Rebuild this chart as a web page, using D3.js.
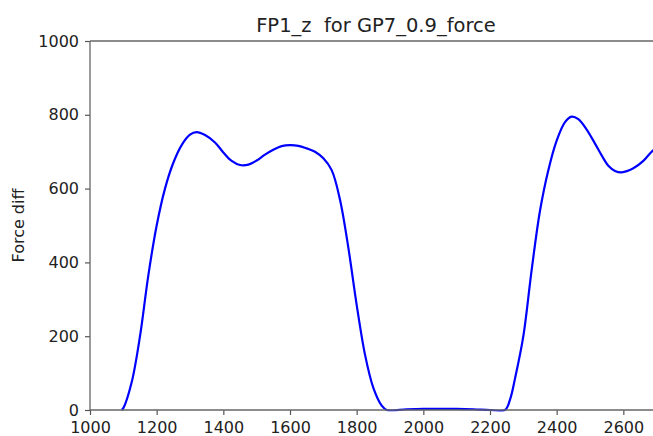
<!DOCTYPE html>
<html>
<head>
<meta charset="utf-8">
<script src="https://cdn.jsdelivr.net/npm/d3@7"></script>
<style>
  html, body { margin: 0; padding: 0; background: #fff; overflow: hidden; }
  svg { display: block; }
  text { font-family: "DejaVu Sans", sans-serif; fill: #222; }
</style>
</head>
<body>
<svg id="chart" width="653" height="436"></svg>
<script>
// Force difference on FP1 (z) over time
const frames = [1095, 1100, 1125, 1150, 1175, 1200, 1225, 1250, 1275, 1300, 1320, 1345, 1375, 1400, 1425, 1450, 1475, 1500, 1525, 1550, 1575, 1600, 1625, 1650, 1675, 1700, 1725, 1750, 1775, 1800, 1825, 1850, 1875, 1890, 1950, 2000, 2050, 2100, 2150, 2200, 2245, 2260, 2275, 2300, 2325, 2350, 2375, 2400, 2425, 2445, 2465, 2490, 2515, 2535, 2555, 2575, 2595, 2630, 2660, 2685, 2720];
const forceDiff = [0, 5, 75, 200, 365, 500, 600, 670, 718, 746, 753, 745, 725, 698, 675, 664, 665, 676, 692, 705, 715, 718, 716, 709, 700, 682, 650, 570, 440, 285, 150, 60, 12, 0, 2, 3, 3, 3, 2, 0, 0, 28, 85, 200, 380, 540, 650, 730, 780, 795, 788, 760, 722, 690, 662, 648, 644, 655, 675, 700, 728];
const xTicks = [1000, 1200, 1400, 1600, 1800, 2000, 2200, 2400, 2600];
const yTicks = [0, 200, 400, 600, 800, 1000];

const svg = d3.select("#chart");
const plotLeft = 90, plotRight = 662, plotTop = 41, plotBottom = 410;

const x = d3.scaleLinear().domain([1000, 2716]).range([plotLeft, plotRight]);
const y = d3.scaleLinear().domain([0, 1000]).range([plotBottom, plotTop]);

// plot line, clipped to axes box
svg.append("clipPath").attr("id", "plotclip")
  .append("rect").attr("x", plotLeft).attr("y", plotTop - 2)
  .attr("width", plotRight - plotLeft).attr("height", plotBottom - plotTop + 3.5);

svg.append("path")
  .datum(frames.map((f, i) => [f, forceDiff[i]]))
  .attr("clip-path", "url(#plotclip)")
  .attr("fill", "none")
  .attr("stroke", "#0000ff")
  .attr("stroke-width", 2.2)
  .attr("d", d3.line().x(d => x(d[0])).y(d => y(d[1])).curve(d3.curveCatmullRom.alpha(0.5)));

// axes
const xAxis = svg.append("g").attr("transform", `translate(0,${plotBottom})`)
  .call(d3.axisBottom(x).tickValues(xTicks).tickFormat(d3.format("d")).tickSize(5).tickPadding(7));
const yAxis = svg.append("g").attr("transform", `translate(${plotLeft},0)`)
  .call(d3.axisLeft(y).tickValues(yTicks).tickFormat(d3.format("d")).tickSize(5).tickPadding(6));

[xAxis, yAxis].forEach(g => {
  g.select(".domain").remove();
  g.selectAll(".tick line").attr("stroke", "#555").attr("stroke-width", 1.2);
  g.selectAll(".tick text").style("font-size", "16px").attr("fill", "#222");
});

// spines
const spine = svg.append("g").attr("fill", "none").attr("stroke", "#666").attr("stroke-width", 1.3);
spine.append("line").attr("x1", plotLeft).attr("x2", plotLeft).attr("y1", plotTop).attr("y2", plotBottom);
spine.append("line").attr("x1", plotLeft).attr("x2", plotRight).attr("y1", plotBottom).attr("y2", plotBottom);
spine.append("line").attr("x1", plotLeft).attr("x2", plotRight).attr("y1", plotTop).attr("y2", plotTop);
spine.append("line").attr("x1", plotRight).attr("x2", plotRight).attr("y1", plotTop).attr("y2", plotBottom);

// title and axis label
svg.append("text")
  .attr("x", (plotLeft + plotRight) / 2).attr("y", 32)
  .attr("text-anchor", "middle")
  .style("font-size", "19.5px")
  .style("white-space", "pre")
  .attr("xml:space", "preserve")
  .text("FP1_z  for GP7_0.9_force");

svg.append("text")
  .attr("transform", `translate(24,${(plotTop + plotBottom) / 2}) rotate(-90)`)
  .attr("text-anchor", "middle")
  .style("font-size", "16px")
  .text("Force diff");
</script>
</body>
</html>
